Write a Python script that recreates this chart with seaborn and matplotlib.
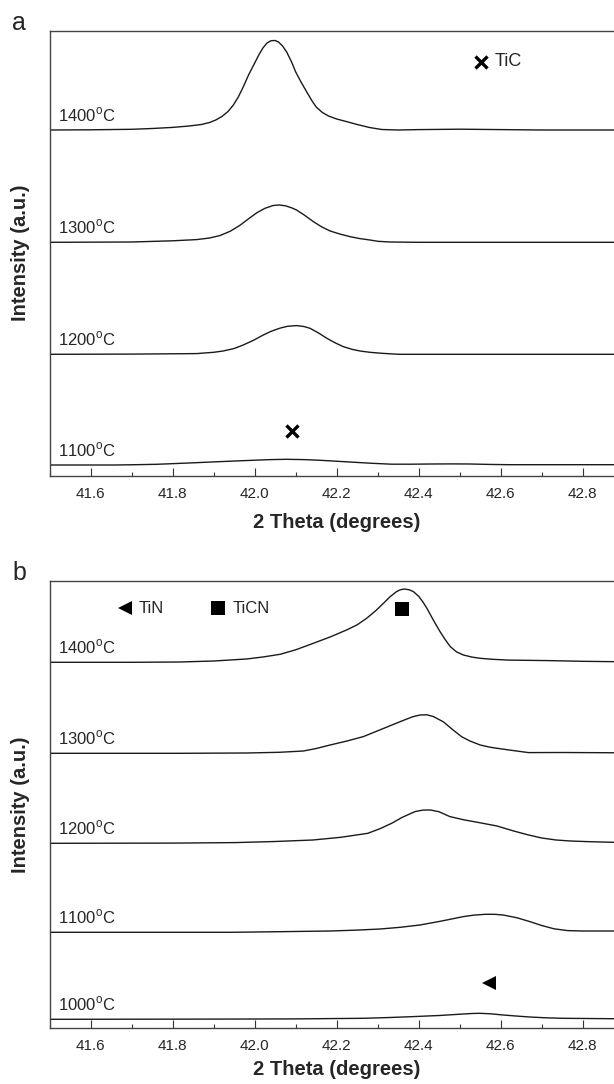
import numpy as np
import pandas as pd
import matplotlib
matplotlib.use("Agg")
import matplotlib.pyplot as plt
import seaborn as sns
from matplotlib.ticker import MultipleLocator

# ---- data (2 theta in degrees, intensity in a.u.) ----
# panel a: TiC peak
a_temps = ["1100", "1200", "1300", "1400"]
a_offsets = [10.7, 121.4, 233.4, 345.7]

a1100_x = [41.50, 41.66, 41.71, 41.76, 41.81, 41.856, 41.90, 41.952, 42.00, 42.04, 42.076, 42.12, 42.16,
           42.19, 42.24, 42.286, 42.334, 42.38, 42.43, 42.48, 42.525, 42.57, 42.62, 42.90]
a1100_y = [0, 0, 0.3, 0.7, 1.5, 2.3, 3.1, 4.0, 4.8, 5.4, 5.7, 5.4, 4.7,
           4.0, 2.8, 1.7, 0.8, 0.8, 1.0, 1.1, 1.0, 0.6, 0.3, 0.3]

a1200_x = [41.50, 41.70, 41.858, 41.90, 41.923, 41.95, 41.972, 41.997, 42.021, 42.04, 42.062, 42.08, 42.102,
           42.12, 42.135, 42.155, 42.176, 42.196, 42.216, 42.237, 42.257, 42.281, 42.31, 42.352, 42.90]
a1200_y = [0, 0.2, 0.7, 2.0, 3.3, 5.8, 9.3, 14.0, 19.3, 23.0, 26.2, 28.0, 28.7,
           27.8, 26.0, 21.5, 16.0, 11.5, 7.7, 5.0, 3.3, 2.0, 1.0, 0, 0]

a1300_x = [41.50, 41.70, 41.80, 41.858, 41.89, 41.915, 41.94, 41.964, 41.985, 42.005, 42.025, 42.045, 42.06,
           42.075, 42.09, 42.102, 42.12, 42.143, 42.163, 42.184, 42.21, 42.232, 42.255, 42.281, 42.30, 42.33,
           42.40, 42.90]
a1300_y = [0, 0.3, 1.5, 2.7, 4.3, 6.7, 11.0, 17.0, 23.5, 29.5, 34.0, 36.8, 37.3,
           36.5, 34.5, 32.3, 27.5, 20.7, 15.5, 11.3, 8.0, 5.7, 3.8, 2.3, 1.0, 0.3,
           0, 0]

a1400_x = [41.50, 41.60, 41.70, 41.75, 41.80, 41.84, 41.87, 41.89, 41.905, 41.92, 41.935, 41.948, 41.96,
           41.972, 41.985, 42.00, 42.01, 42.02, 42.03, 42.04, 42.05, 42.058, 42.068, 42.078, 42.09, 42.10,
           42.113, 42.127, 42.14, 42.15, 42.165, 42.18, 42.20, 42.225, 42.25, 42.28, 42.31, 42.35, 42.40,
           42.50, 42.60, 42.70, 42.90]
a1400_y = [0, 0.2, 0.7, 1.5, 2.6, 4.0, 5.5, 7.5, 10.0, 13.5, 18.5, 25.0, 33.0,
           43.0, 55.0, 67.0, 75.0, 82.0, 87.0, 89.3, 89.5, 88.0, 84.0, 78.0, 68.0, 58.0,
           48.0, 38.0, 29.0, 23.0, 17.5, 14.0, 11.0, 8.3, 5.5, 2.5, 0.5, 0, 0.4,
           0.8, 0.4, 0, 0]

# panel b: TiN / TiCN peak
b_temps = ["1000", "1100", "1200", "1300", "1400"]
b_offsets = [9.0, 96.0, 185.0, 275.0, 366.0]

b1000_x = [41.50, 41.90, 42.102, 42.18, 42.265, 42.33, 42.387, 42.45, 42.509, 42.53, 42.548, 42.575,
           42.606, 42.64, 42.671, 42.71, 42.75, 42.90]
b1000_y = [0, 0.2, 0.4, 0.7, 1.0, 1.8, 2.7, 3.8, 5.3, 5.8, 6.0, 5.5,
           4.3, 3.2, 2.3, 1.5, 1.0, 0.5]

b1100_x = [41.50, 41.94, 42.06, 42.184, 42.25, 42.306, 42.355, 42.403, 42.455, 42.509, 42.535, 42.563,
           42.585, 42.606, 42.64, 42.671, 42.70, 42.73, 42.763, 42.80, 42.90]
b1100_y = [0, 0, 0.6, 1.3, 2.2, 3.3, 5.0, 7.3, 11.2, 15.7, 17.2, 18.0,
           18.0, 17.3, 14.5, 10.7, 6.8, 3.5, 1.7, 1.3, 1.3]

b1200_x = [41.50, 41.80, 41.952, 42.05, 42.142, 42.21, 42.276, 42.305, 42.334, 42.36, 42.391, 42.41,
           42.429, 42.45, 42.476, 42.51, 42.55, 42.591, 42.63, 42.668, 42.70, 42.735, 42.77, 42.81, 42.90]
b1200_y = [0, 0.2, 0.7, 1.8, 3.3, 6.0, 10.0, 14.5, 20.0, 26.0, 31.7, 33.2,
           33.3, 31.5, 26.7, 23.5, 20.5, 17.3, 12.5, 8.3, 5.3, 3.3, 2.3, 1.7, 0.7]

b1300_x = [41.50, 41.818, 41.98, 42.06, 42.119, 42.15, 42.184, 42.225, 42.265, 42.30, 42.33, 42.36,
           42.385, 42.403, 42.42, 42.436, 42.46, 42.484, 42.505, 42.525, 42.55, 42.575, 42.60, 42.635,
           42.668, 42.75, 42.90]
b1300_y = [0, 0, 0.3, 1.0, 2.3, 4.8, 8.3, 12.3, 16.7, 22.5, 27.5, 32.5,
           36.5, 38.3, 38.5, 36.7, 31.5, 23.3, 16.5, 12.3, 8.3, 6.0, 4.5, 2.5,
           0.7, 0.8, 0.5]

b1400_x = [41.50, 41.70, 41.818, 41.90, 41.98, 42.02, 42.062, 42.10, 42.143, 42.185, 42.224, 42.25,
           42.273, 42.295, 42.314, 42.33, 42.346, 42.355, 42.365, 42.377, 42.387, 42.40, 42.41, 42.42,
           42.436, 42.452, 42.465, 42.477, 42.492, 42.509, 42.53, 42.55, 42.58, 42.62, 42.715, 42.80, 42.90]
b1400_y = [0, 0, 0.3, 1.3, 3.3, 5.3, 8.0, 12.5, 19.0, 25.5, 32.3, 37.5,
           44.0, 51.5, 59.0, 65.5, 70.7, 72.5, 73.3, 72.5, 70.7, 66.0, 60.5, 54.0,
           42.0, 30.7, 22.5, 15.7, 10.5, 7.3, 5.2, 4.0, 3.0, 2.2, 1.7, 1.0, 0.5]

# phase markers (x, y in axis data units)
tic_peak = (42.09, 45)
ticn_peak = (42.359, 419)
tin_peak = (42.572, 45.6)

a_curves = [(a1100_x, a1100_y), (a1200_x, a1200_y), (a1300_x, a1300_y), (a1400_x, a1400_y)]
b_curves = [(b1000_x, b1000_y), (b1100_x, b1100_y), (b1200_x, b1200_y), (b1300_x, b1300_y), (b1400_x, b1400_y)]

sns.set_style("white")
plt.rcParams["font.family"] = ["Liberation Sans", "DejaVu Sans"]
plt.rcParams["mathtext.fontset"] = "custom"
plt.rcParams["mathtext.rm"] = "Liberation Sans"

W, H = 614, 1084
fig = plt.figure(figsize=(W / 100, H / 100), dpi=100)
ax_left = 49.7 / W
ax_width = 1.4 * 410 / W
ax_a = fig.add_axes([ax_left, 1 - 475.7 / H, ax_width, (475.7 - 30.7) / H])
ax_b = fig.add_axes([ax_left, 1 - 1028.3 / H, ax_width, (1028.3 - 581.0) / H])


def stacked(ax, curves, offsets, temps, ytop, xlabelpad):
    """draw stacked XRD patterns with the temperature written above each baseline"""
    for (xs, ys), off, t in zip(curves, offsets, temps):
        df = pd.DataFrame({"theta": xs, "intensity": np.array(ys) + off})
        sns.lineplot(data=df, x="theta", y="intensity", color="#1a1a1a", lw=1.0, ax=ax)
        ax.text(41.52, off + 15, t + r"$^{\mathrm{o}}$C", fontsize=12, va="center", ha="left")
    ax.set_xlim(41.5, 42.9)
    ax.set_ylim(0, ytop)
    ax.set_yticks([])
    ax.xaxis.set_major_locator(MultipleLocator(0.2))
    ax.xaxis.set_minor_locator(MultipleLocator(0.1))
    ax.xaxis.set_major_formatter(matplotlib.ticker.FormatStrFormatter("%.1f"))
    ax.tick_params(axis="x", which="major", direction="in", length=6, width=0.8, pad=8,
                   labelsize=11, bottom=True, color="#333333")
    ax.tick_params(axis="x", which="minor", direction="in", length=3, width=0.8, bottom=True, color="#333333")
    for s in ax.spines.values():
        s.set_color("#444444")
        s.set_linewidth(1.0)
    ax.set_xlabel("2 Theta (degrees)", fontsize=14.5, fontweight="bold", labelpad=xlabelpad)
    ax.set_ylabel("Intensity (a.u.)", fontsize=14.5, fontweight="bold", labelpad=14)


stacked(ax_a, a_curves, a_offsets, a_temps, 445.0, 9)
stacked(ax_b, b_curves, b_offsets, b_temps, 447.3, 5)

# panel a markers / key
ax_a.plot(*tic_peak, marker="x", ms=8.5, mew=2.4, color="k")
ax_a.plot(42.551, 414, marker="x", ms=8.5, mew=2.4, color="k")
ax_a.text(42.586, 414, "TiC", fontsize=13, va="center", ha="left")

# panel b markers / key
ax_b.plot(*ticn_peak, marker="s", ms=10, color="k", mew=0)
ax_b.plot(*tin_peak, marker="<", ms=10, color="k", mew=0)
ax_b.plot(41.684, 420, marker="<", ms=10, color="k", mew=0)
ax_b.text(41.718, 420, "TiN", fontsize=12, va="center", ha="left")
ax_b.plot(41.91, 420, marker="s", ms=10, color="k", mew=0)
ax_b.text(41.947, 420, "TiCN", fontsize=12, va="center", ha="left")

fig.text(12 / W, 1 - 30 / H, "a", fontsize=18, va="baseline", ha="left")
fig.text(12 / W, 1 - 580 / H, "b", fontsize=18, va="baseline", ha="left")

fig.savefig("out.png", dpi=100)
